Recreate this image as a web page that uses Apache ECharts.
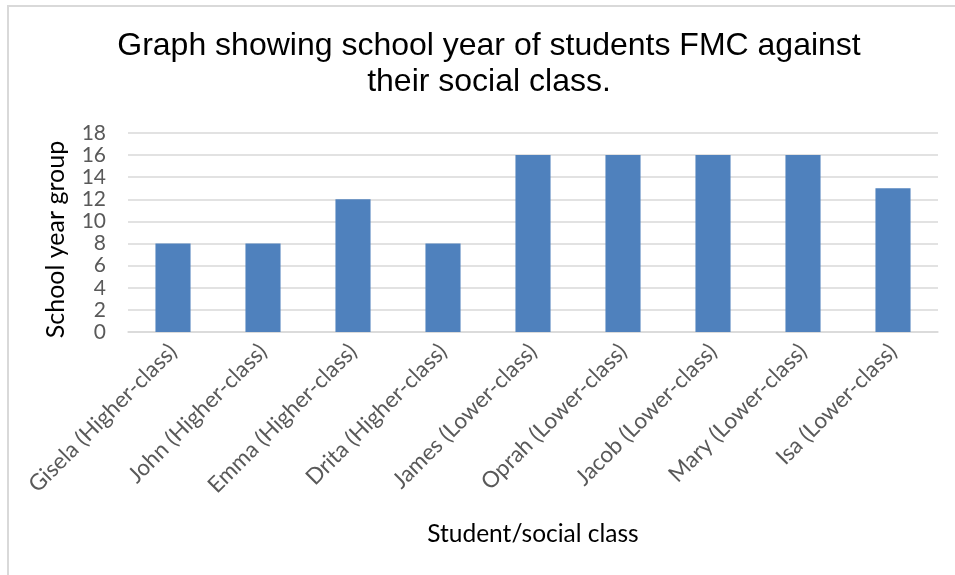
<!DOCTYPE html>
<html>
<head>
<meta charset="utf-8">
<script src="https://cdn.jsdelivr.net/npm/echarts@6/dist/echarts.min.js"></script>
<style>
html,body{margin:0;padding:0;background:#fff;}
#chart{width:955px;height:575px;}
</style>
</head>
<body>
<div id="chart"></div>
<script>
var categories = ["Gisela (Higher-class)", "John (Higher-class)", "Emma (Higher-class)", "Drita (Higher-class)", "James (Lower-class)", "Oprah (Lower-class)", "Jacob (Lower-class)", "Mary (Lower-class)", "Isa (Lower-class)"];
var values = [8, 8, 12, 8, 16, 16, 16, 16, 13];
var titleText = "Graph showing school year of students FMC against\ntheir social class.";
var xName = "Student/social class";
var yName = "School year group";

var chart = echarts.init(document.getElementById('chart'));
chart.setOption({
  animation: false,
  backgroundColor: '#fff',
  graphic: [{
    type: 'rect',
    shape: {x: 8, y: 6, width: 1000, height: 700},
    style: {fill: 'none', stroke: '#D9D9D9', lineWidth: 2},
    silent: true
  }, {
    type: 'text',
    x: 489,
    y: 28,
    silent: true,
    style: {
      text: titleText,
      fontFamily: 'Liberation Sans',
      fontSize: 32,
      fill: '#000',
      lineHeight: 36,
      align: 'center',
      textAlign: 'center',
      verticalAlign: 'top'
    }
  }],
  grid: {left: 128, right: 17, top: 133, bottom: 243, containLabel: false},
  xAxis: {
    type: 'category',
    data: categories,
    name: xName,
    nameLocation: 'middle',
    nameGap: 190,
    nameTextStyle: {fontFamily: 'Lato', fontSize: 24.5, color: '#000'},
    axisLine: {lineStyle: {color: '#D9D9D9', width: 1.5}},
    axisTick: {show: false},
    axisLabel: {rotate: 45, margin: 16, fontFamily: 'Lato', fontSize: 22.5, color: '#595959', interval: 0}
  },
  yAxis: {
    type: 'value',
    min: 0,
    max: 18,
    interval: 2,
    name: yName,
    nameLocation: 'middle',
    nameGap: 60,
    nameTextStyle: {fontFamily: 'Lato', fontSize: 25, color: '#000', padding: [0, 14, 0, 0]},
    axisLine: {show: false},
    axisTick: {show: false},
    axisLabel: {margin: 22, fontFamily: 'Lato', fontSize: 21, color: '#595959'},
    splitLine: {lineStyle: {color: '#D9D9D9', width: 1.5}}
  },
  series: [{
    type: 'bar',
    data: values,
    barCategoryGap: '61%',
    itemStyle: {color: '#4F81BD'}
  }]
});
</script>
</body>
</html>
